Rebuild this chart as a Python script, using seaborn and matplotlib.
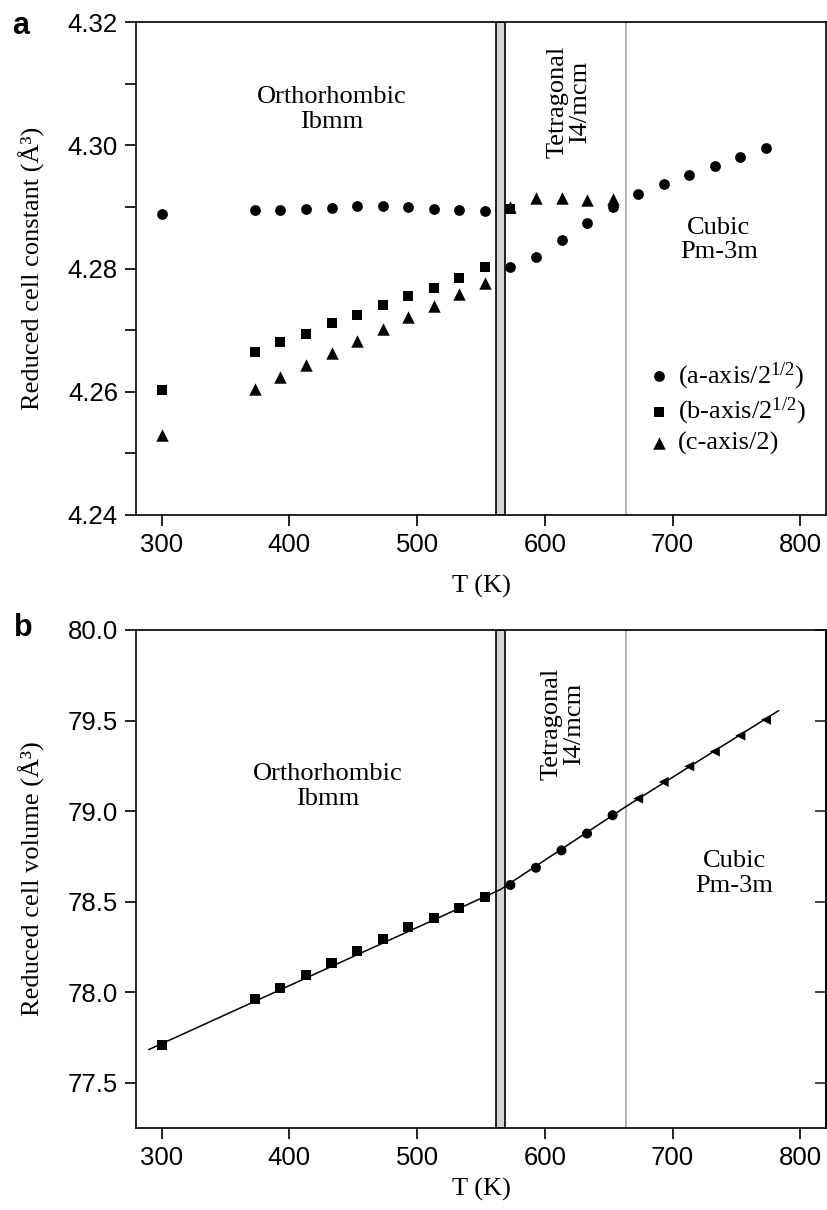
import numpy as np
import pandas as pd
import matplotlib
matplotlib.use("Agg")
import matplotlib.pyplot as plt
import seaborn as sns
from matplotlib.ticker import MultipleLocator

nan = np.nan

# ---------------- data ----------------
temps = [300, 373, 393, 413, 433, 453, 473, 493, 513, 533, 553,
         573, 593, 613, 633, 653, 673, 693, 713, 733, 753, 773]

a_axis = [4.2889, 4.2895, 4.2895, 4.2897, 4.2898, 4.2901, 4.2901, 4.2900, 4.2897, 4.2895, 4.2894,
          4.2802, 4.2819, 4.2846, 4.2874, 4.2899, 4.2921, 4.2937, 4.2952, 4.2967, 4.2981, 4.2995]
b_axis = [4.2603, 4.2664, 4.2680, 4.2694, 4.2711, 4.2724, 4.2741, 4.2755, 4.2768, 4.2785, 4.2802,
          4.2897, nan, nan, nan, nan, nan, nan, nan, nan, nan, nan]
c_axis = [4.2530, 4.2604, 4.2624, 4.2643, 4.2663, 4.2682, 4.2702, 4.2721, 4.2739, 4.2758, 4.2776,
          4.2899, 4.2915, 4.2915, 4.2911, 4.2913, nan, nan, nan, nan, nan, nan]

volume = [77.711, 77.962, 78.023, 78.093, 78.161, 78.228, 78.293, 78.359, 78.412, 78.467, 78.528,
          78.592, 78.687, 78.783, 78.876, 78.977, 79.069, 79.161, 79.247, 79.329, 79.417, 79.504]
phase = ["O"] * 11 + ["T"] * 5 + ["C"] * 6

fit_T = [290, 565, 663, 783]
fit_V = [77.683, 78.566, 79.023, 79.555]

legend_labels = ["(a-axis/2$^{1/2}$)", "(b-axis/2$^{1/2}$)", "(c-axis/2)"]
x_ticks = [300, 400, 500, 600, 700, 800]
top_yticks = [4.24, 4.26, 4.28, 4.30, 4.32]
bot_yticks = [77.5, 78.0, 78.5, 79.0, 79.5, 80.0]

T_double = (561.8, 568.8)
T_cubic = 663.4

# ---------------- style ----------------
sns.set_theme(style="ticks")
plt.rcParams["font.family"] = ["Liberation Serif", "DejaVu Serif"]
plt.rcParams["mathtext.fontset"] = "custom"
plt.rcParams["mathtext.rm"] = "Liberation Serif"
plt.rcParams["mathtext.it"] = "Liberation Serif:italic"
plt.rcParams["axes.linewidth"] = 1.2
plt.rcParams["axes.edgecolor"] = "black"

W, H = 827, 1210
fig = plt.figure(figsize=(W / 100, H / 100), dpi=100)
ax1 = fig.add_axes([136 / W, 1 - 515 / H, 690 / W, (515 - 22) / H])
ax2 = fig.add_axes([136 / W, 1 - 1128 / H, 690 / W, (1128 - 630) / H])

TXT = 19

for ax in (ax1, ax2):
    ax.axvspan(*T_double, facecolor="#d4d4d4", edgecolor="black", linewidth=1.2, zorder=1)
    ax.axvline(T_cubic, color="#a8a8a8", linewidth=1.2, zorder=1)
    ax.set_xlim(280, 820)
    ax.set_xticks(x_ticks)
    ax.tick_params(axis="both", which="both", direction="out", length=8, width=1.2,
                   labelsize=18.5, labelfontfamily="Liberation Sans", colors="black",
                   top=False, right=False, pad=5)
    ax.set_xlabel("T (K)", fontsize=TXT, color="black")
    for s in ax.spines.values():
        s.set_visible(True)
        s.set_color("black")
        s.set_linewidth(1.2)

# ---------------- panel a ----------------
sns.scatterplot(x=temps, y=a_axis, marker="o", s=60, color="black", linewidth=0,
                label=legend_labels[0], ax=ax1, zorder=3)
sns.scatterplot(x=temps, y=b_axis, marker="s", s=52, color="black", linewidth=0,
                label=legend_labels[1], ax=ax1, zorder=3)
sns.scatterplot(x=temps, y=c_axis, marker="^", s=80, color="black", linewidth=0,
                label=legend_labels[2], ax=ax1, zorder=3)
ax1.set_ylim(4.24, 4.32)
ax1.set_yticks(top_yticks)
ax1.yaxis.set_minor_locator(MultipleLocator(0.01))
ax1.yaxis.set_major_formatter(matplotlib.ticker.FormatStrFormatter("%.2f"))
ax1.set_ylabel("Reduced cell constant (Å³)", fontsize=TXT, color="black")
ax1.yaxis.set_label_coords(-0.132, 0.5)
ax1.xaxis.set_label_coords(0.5, -0.122)
leg = ax1.legend(loc="upper left", bbox_to_anchor=(0.72, 0.335), frameon=False,
                 fontsize=TXT, handletextpad=0.1, handlelength=1.2, labelspacing=0.15,
                 borderaxespad=0)
for t in leg.get_texts():
    t.set_color("black")

ax1.text(433, 4.3058, "Orthorhombic\nIbmm", ha="center", va="center", fontsize=TXT,
         linespacing=1.15, color="black")
ax1.text(619, 4.3071, "Tetragonal\nI4/mcm", ha="center", va="center", rotation=90,
         fontsize=TXT, linespacing=1.05, color="black")
ax1.text(736, 4.2846, "Cubic\nPm-3m", ha="center", va="center", fontsize=TXT,
         linespacing=1.15, color="black")

# ---------------- panel b ----------------
sns.lineplot(x=fit_T, y=fit_V, color="black", linewidth=1.1, estimator=None, sort=False,
             ax=ax2, zorder=2)
sns.scatterplot(x=temps, y=volume, style=phase, markers={"O": "s", "T": "o", "C": "<"},
                s=52, color="black", linewidth=0, legend=False, ax=ax2, zorder=3)
ax2.set_ylim(77.25, 80.0)
ax2.set_yticks(bot_yticks)
ax2.yaxis.set_major_formatter(matplotlib.ticker.FormatStrFormatter("%.1f"))
ax2.set_ylabel("Reduced cell volume (Å³)", fontsize=TXT, color="black")
ax2.yaxis.set_label_coords(-0.132, 0.5)
ax2.xaxis.set_label_coords(0.5, -0.1)
sec = ax2.secondary_yaxis("right")
sec.set_yticks(bot_yticks)
sec.tick_params(direction="in", length=8, width=1.2, labelright=False)
sec.spines["right"].set_linewidth(1.2)

ax2.text(430, 79.135, "Orthorhombic\nIbmm", ha="center", va="center", fontsize=TXT,
         linespacing=1.15, color="black")
ax2.text(614, 79.48, "Tetragonal\nI4/mcm", ha="center", va="center", rotation=90,
         fontsize=TXT, linespacing=1.05, color="black")
ax2.text(748, 78.654, "Cubic\nPm-3m", ha="center", va="center", fontsize=TXT,
         linespacing=1.15, color="black")

# panel letters
fig.text(12 / W, 1 - 26 / H, "a", fontsize=22, fontweight="bold", family="Liberation Sans",
         va="center", ha="left", color="black")
fig.text(14 / W, 1 - 628 / H, "b", fontsize=22, fontweight="bold", family="Liberation Sans",
         va="center", ha="left", color="black")

fig.savefig("out.png", dpi=100, facecolor="white")
